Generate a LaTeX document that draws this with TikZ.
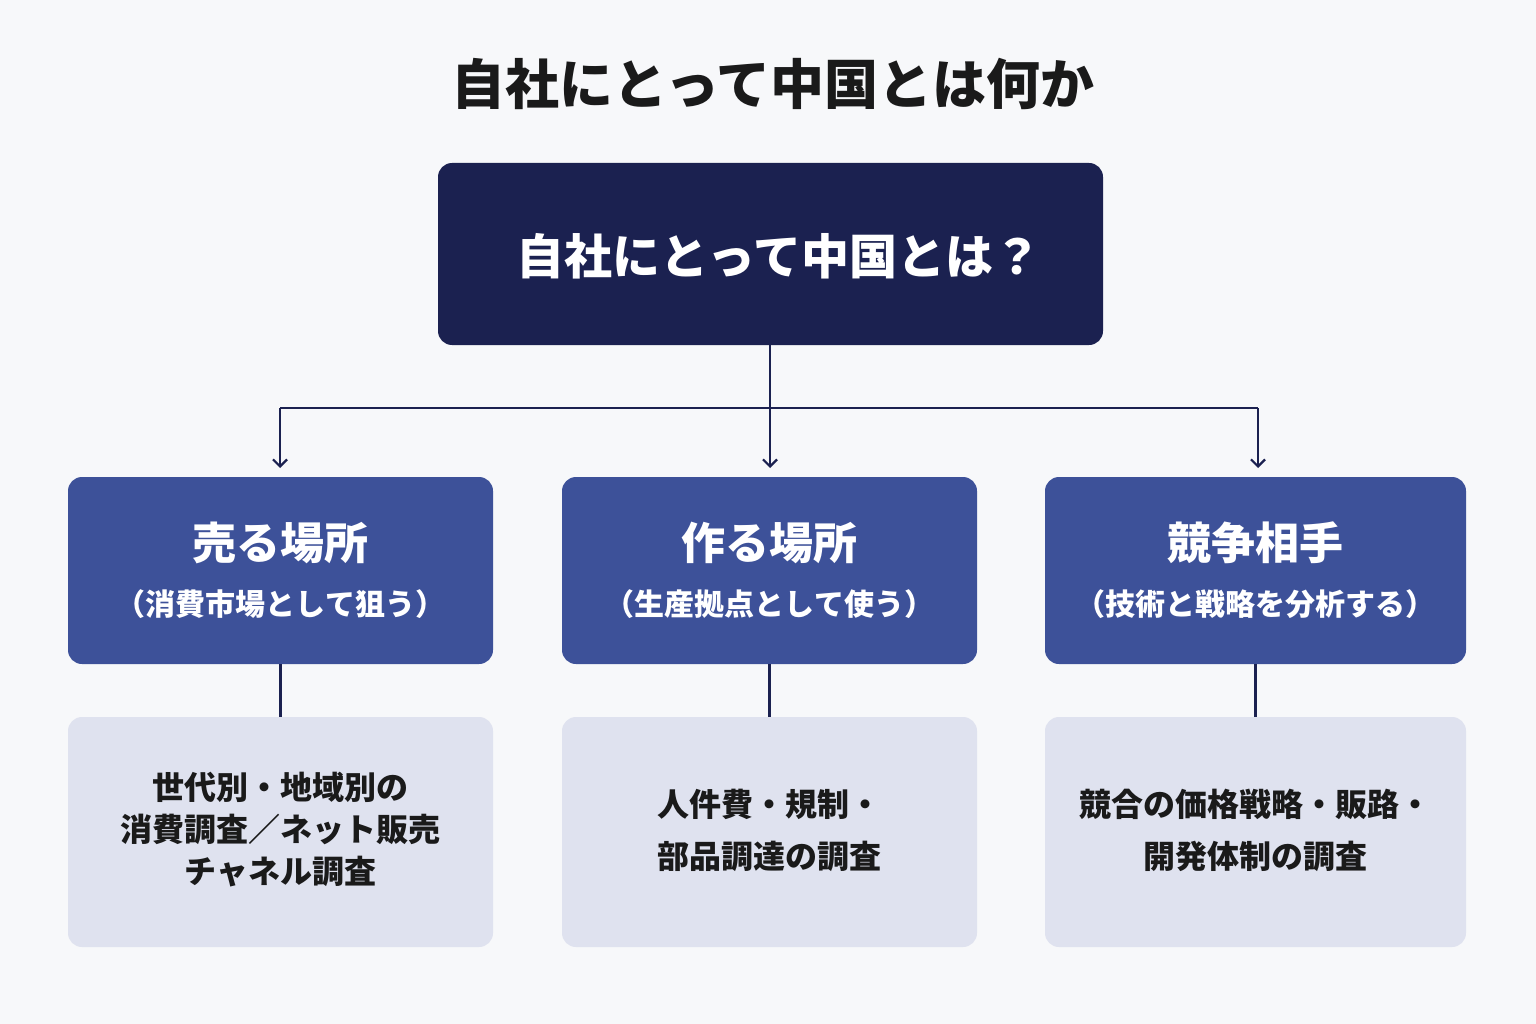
\documentclass[tikz,border=0pt]{standalone}
\usepackage{fontspec}
\newfontfamily\cjk{Noto Sans CJK JP}
\usetikzlibrary{arrows.meta}
\definecolor{bg}{HTML}{F7F8FA}
\definecolor{navy}{HTML}{1B2150}
\definecolor{mid}{HTML}{3D5199}
\definecolor{light}{HTML}{DFE2EF}
\definecolor{ink}{HTML}{1A1A1A}
\begin{document}
\begin{tikzpicture}[x=1pt,y=-1pt,
  box/.style={rounded corners=14pt,inner sep=0pt},
  conn/.style={draw=navy,line width=2.2pt},
  arr/.style={conn,-{Straight Barb[length=7pt,width=14pt,line width=2.2pt]}},
  t/.style={font=\cjk\bfseries,align=center}]
\useasboundingbox[fill=bg] (0,0) rectangle (1536,1024);
\node[t,text=ink,font=\cjk\bfseries\fontsize{54}{60}\selectfont] (title) at (773,84) {自社にとって中国とは何か};
\fill[navy,box] (438,163) rectangle (1103,345);
\node[t,text=white,font=\cjk\bfseries\fontsize{48}{56}\selectfont] (top) at (779,256) {自社にとって中国とは？};
\coordinate (tb) at (770,345);
\coordinate (j) at (770,408);
\coordinate (jl) at (280,408);
\coordinate (jr) at (1258,408);
\coordinate (al) at (280,468);
\coordinate (am) at (770,468);
\coordinate (ar) at (1258,468);
\draw[conn] (tb) -- (j);
\draw[conn] (jl) -- (jr);
\draw[arr] (jl) -- (al);
\draw[arr] (j) -- (am);
\draw[arr] (jr) -- (ar);
\foreach \n/\a/\b/\h/\s/\body in {
  l/68/493/売る場所/（消費市場として狙う）/{世代別・地域別の\\[4pt]消費調査／ネット販売\\[4pt]チャネル調査},
  m/562/977/作る場所/（生産拠点として使う）/{人件費・規制・\\[14pt]部品調達の調査},
  r/1045/1466/競争相手/（技術と戦略を分析する）/{競合の価格戦略・販路・\\[14pt]開発体制の調査}}{
  \fill[mid,box] (\a,477) rectangle (\b,664);
  \fill[light,box] (\a,717) rectangle (\b,947);
  \node[t,text=white,font=\cjk\bfseries\fontsize{44}{50}\selectfont] (h\n) at ({(\a+\b)/2},543) {\h};
  \node[t,text=white,font=\cjk\bfseries\fontsize{30}{36}\selectfont] (s\n) at ({(\a+\b)/2},604) {\s};
  \node[t,text=ink,font=\cjk\bfseries\fontsize{32}{38}\selectfont] (b\n) at ({(\a+\b)/2},830) {\body};
  \coordinate (mb\n) at ({(\a+\b)/2},664);
  \coordinate (bt\n) at ({(\a+\b)/2},717);
  \draw[conn] (mb\n) -- (bt\n);
}
\end{tikzpicture}
\end{document}
